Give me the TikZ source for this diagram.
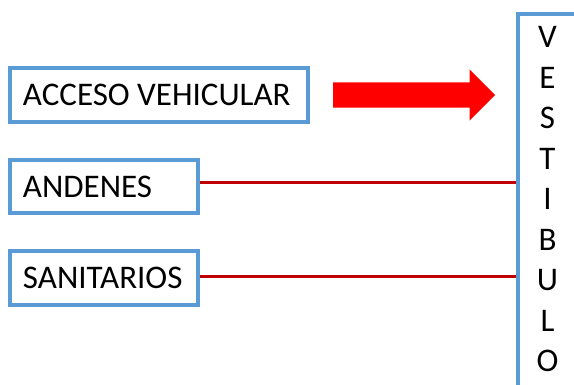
\documentclass[tikz,border=0pt]{standalone}
\usepackage{fontspec}
\setmainfont{Carlito}
\usetikzlibrary{positioning,shapes.arrows}
\definecolor{boxblue}{HTML}{5B9BD5}
\definecolor{linkred}{HTML}{C00000}
\tikzset{
  area/.style={draw=boxblue,line width=4pt,fill=white,inner xsep=13pt,align=flush left,
    font=\fontsize{33}{40}\selectfont},
  link/.style={draw=linkred,line width=3pt},
}
\begin{document}
\begin{tikzpicture}[x=1pt,y=-1pt]
\fill[white] (0,0) rectangle (574,385);
\clip (0,0) rectangle (574,385);

% areas on the left
\node[area,minimum width=298pt,minimum height=54pt,text width=272pt] (acceso) at (159,95) {ACCESO VEHICULAR};
\node[area,minimum width=188pt,minimum height=53pt,text width=162pt] (andenes) at (104,186.5) {ANDENES};
\node[area,minimum width=188pt,minimum height=54pt,text width=162pt] (sanitarios) at (104,278) {SANITARIOS};

% vestibulo column
\node[area,minimum width=64pt,minimum height=400pt,anchor=north west] (vestibulo) at (516,12.5) {};
\node[below=14pt of vestibulo.north,xshift=-2.5pt,inner sep=0pt,align=center,
  font=\fontsize{33}{40.5}\selectfont] (letras) {V\\E\\S\\T\\I\\B\\U\\L\\O};

% connections
\node[single arrow,fill=red,minimum height=162pt,minimum width=51pt,
  single arrow head extend=13pt,inner xsep=0pt,inner ysep=12.5pt,right=23pt of acceso] (flecha) {};
\draw[link] ([yshift=3.5pt]andenes.east) -- ([yshift=3.5pt]andenes.east -| vestibulo.west);
\draw[link] ([yshift=1pt]sanitarios.east) -- ([yshift=1pt]sanitarios.east -| vestibulo.west);
\end{tikzpicture}
\end{document}
